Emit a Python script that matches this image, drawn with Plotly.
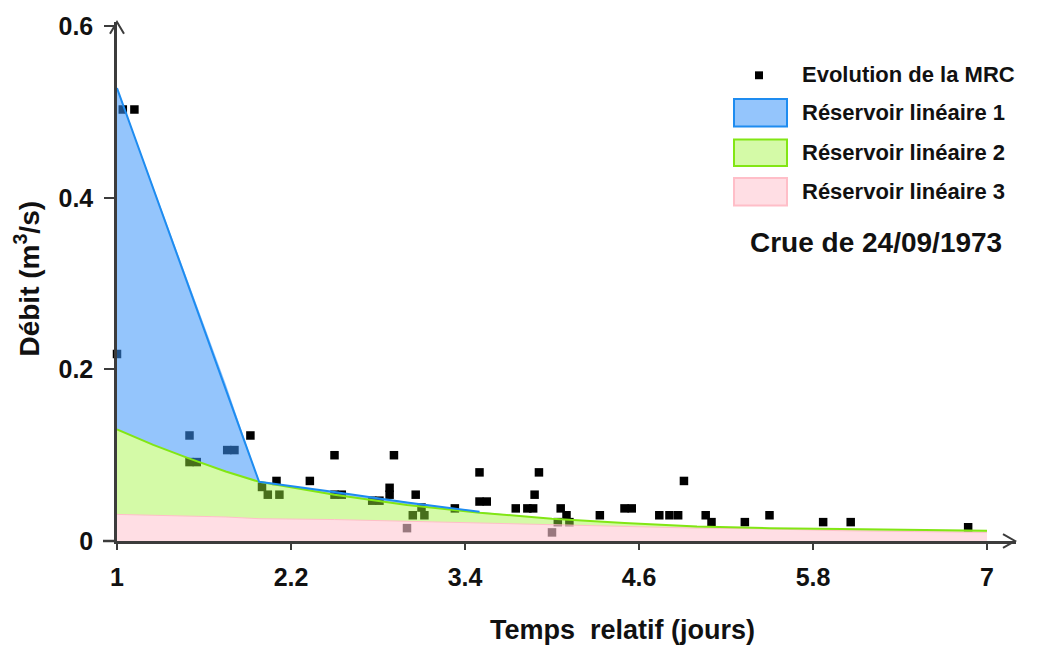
import plotly.graph_objects as go

# ---- data ----
mrc_x = [1.0, 1.04, 1.12, 1.50, 1.50, 1.55, 1.76, 1.81, 1.92, 2.00, 2.10, 2.04, 2.12, 2.33, 2.50, 2.50, 2.55,
         2.76, 2.81, 2.88, 2.88, 2.91, 3.06, 3.10, 3.04, 3.12, 3.00, 3.33, 3.50, 3.50, 3.55, 3.75, 3.83, 3.87,
         3.88, 3.91, 4.00, 4.06, 4.10, 4.04, 4.12, 4.33, 4.50, 4.55, 4.74, 4.81, 4.87, 4.91, 5.06, 5.10, 5.33,
         5.50, 5.87, 6.06, 6.87]
mrc_y = [0.218, 0.503, 0.503, 0.123, 0.092, 0.092, 0.106, 0.106, 0.123, 0.063, 0.070, 0.054, 0.054, 0.070,
         0.100, 0.054, 0.054, 0.047, 0.047, 0.062, 0.054, 0.100, 0.054, 0.039, 0.030, 0.030, 0.015, 0.038,
         0.080, 0.046, 0.046, 0.038, 0.038, 0.038, 0.054, 0.080, 0.010, 0.038, 0.030, 0.022, 0.022, 0.030,
         0.038, 0.038, 0.030, 0.030, 0.030, 0.070, 0.030, 0.022, 0.022, 0.030, 0.022, 0.022, 0.016]

res_x = [1.0, 1.25, 1.5, 1.75, 1.98, 2.5, 3.0, 3.5, 4.0, 4.5, 5.0, 5.5, 6.0, 6.5, 7.0]
res3_top = [0.031, 0.030, 0.029, 0.028, 0.026, 0.025, 0.023, 0.021, 0.019, 0.017, 0.015, 0.014, 0.012, 0.011, 0.010]
res2_top = [0.130, 0.112, 0.096, 0.081, 0.069, 0.054, 0.042, 0.033, 0.026, 0.021, 0.017, 0.015, 0.014, 0.013, 0.012]
res1_top = [0.528, 0.413, 0.298, 0.183, 0.069, 0.057, 0.045, 0.034, 0.026, 0.021, 0.017, 0.015, 0.014, 0.013, 0.012]
res1_edge_x = [1.0, 1.98, 2.5, 3.0, 3.5]
res1_edge_y = [0.528, 0.069, 0.057, 0.045, 0.034]

x_ticks = [1, 2.2, 3.4, 4.6, 5.8, 7]
y_ticks = [0, 0.2, 0.4, 0.6]
y_ticktext = ["0", "0.2", "0.4", "0.6"]

legend_labels = ["Evolution de la MRC", "Réservoir linéaire 1", "Réservoir linéaire 2", "Réservoir linéaire 3"]
note_text = "Crue de 24/09/1973"
x_title = "Temps  relatif (jours)"
y_title = "Débit (m<sup>3</sup>/s)"

# ---- styles ----
BLUE_FILL = "rgba(60,150,250,0.55)"
GREEN_FILL = "rgba(160,245,60,0.45)"
PINK_FILL = "rgba(255,200,210,0.6)"
BLUE_LINE = "rgb(30,140,240)"
GREEN_LINE = "rgb(130,230,20)"
PINK_LINE = "rgb(255,190,200)"
AXIS = "#3c3c3c"
TXT = "#111111"
FONT = "Liberation Sans"

W, H = 1043, 648
L, R, T, B = 117, 27, 15, 107
PW, PH = W - L - R, H - T - B
X0, X1 = 1.0, 7.2
Y0, Y1 = 0.0, 0.605


def px(xp):
    return (xp - L) / PW


def py(yp):
    return (H - B - yp) / PH


fig = go.Figure()

# markers first, fills overlay them (semi-transparent)
fig.add_trace(go.Scatter(x=mrc_x, y=mrc_y, mode="markers",
                         marker=dict(symbol="square", size=8.5, color="black"),
                         cliponaxis=False, showlegend=False))
fig.add_trace(go.Scatter(x=res_x, y=[0] * len(res_x), mode="lines",
                         line=dict(width=0), showlegend=False))
fig.add_trace(go.Scatter(x=res_x, y=res3_top, mode="lines", fill="tonexty",
                         fillcolor=PINK_FILL, line=dict(color=PINK_LINE, width=1), showlegend=False))
fig.add_trace(go.Scatter(x=res_x, y=res2_top, mode="lines", fill="tonexty",
                         fillcolor=GREEN_FILL, line=dict(color=GREEN_LINE, width=2), showlegend=False))
fig.add_trace(go.Scatter(x=res_x, y=res1_top, mode="lines", fill="tonexty",
                         fillcolor=BLUE_FILL, line=dict(width=0), showlegend=False))
fig.add_trace(go.Scatter(x=res1_edge_x, y=res1_edge_y, mode="lines",
                         line=dict(color=BLUE_LINE, width=2), showlegend=False))

shapes = []
# axis arrows (open chevrons)
shapes.append(dict(type="path", xref="paper", yref="paper",
                   path=f"M {px(1003)} {py(534)} L {px(1015)} {py(541)} L {px(1003)} {py(548)}",
                   line=dict(color=AXIS, width=2)))
shapes.append(dict(type="path", xref="paper", yref="paper",
                   path=f"M {px(110)} {py(27)} L {px(117)} {py(15)} L {px(124)} {py(27)}",
                   line=dict(color=AXIS, width=2)))
# x axis small overhang to the left
shapes.append(dict(type="line", xref="paper", yref="paper", x0=px(103), x1=px(117), y0=py(541), y1=py(541),
                   line=dict(color=AXIS, width=2.5)))

# custom legend
shapes.append(dict(type="rect", xref="paper", yref="paper", x0=px(755), x1=px(763), y0=py(65), y1=py(73),
                   fillcolor="black", line=dict(width=0)))
sw = [(BLUE_FILL, BLUE_LINE, 93, 121), (GREEN_FILL, GREEN_LINE, 134, 161), (PINK_FILL, PINK_LINE, 173, 201)]
for fc, lc, ya, yb in sw:
    shapes.append(dict(type="rect", xref="paper", yref="paper", x0=px(734), x1=px(787), y0=py(yb), y1=py(ya),
                       fillcolor=fc, line=dict(color=lc, width=2)))

annotations = []
for lab, yc in zip(legend_labels, [68, 107, 147, 187]):
    annotations.append(dict(text=lab, xref="paper", yref="paper", x=px(800), y=py(yc), xanchor="left",
                            yanchor="middle", showarrow=False,
                            font=dict(family=FONT, size=22, color=TXT, weight="bold")))
annotations.append(dict(text=note_text, xref="paper", yref="paper", x=px(748), y=py(238), xanchor="left",
                        yanchor="middle", showarrow=False,
                        font=dict(family=FONT, size=28, color=TXT, weight="bold")))
annotations.append(dict(text=x_title, xref="paper", yref="paper", x=px(622), y=py(631),
                        xanchor="center", yanchor="middle", showarrow=False,
                        font=dict(family=FONT, size=27, color=TXT, weight="bold")))
annotations.append(dict(text=y_title, xref="paper", yref="paper", x=px(27), y=py(275),
                        xanchor="center", yanchor="middle", showarrow=False, textangle=-90,
                        font=dict(family=FONT, size=28, color=TXT, weight="bold")))

fig.update_layout(
    width=W, height=H,
    margin=dict(l=L, r=R, t=T, b=B),
    plot_bgcolor="white", paper_bgcolor="white",
    showlegend=False,
    shapes=shapes, annotations=annotations,
    xaxis=dict(range=[X0, X1], tickvals=x_ticks, ticktext=[str(v) for v in x_ticks],
               showgrid=False, zeroline=False, showline=True, linecolor=AXIS, linewidth=2.5,
               ticks="outside", ticklen=6, tickcolor=AXIS, tickwidth=1.5,
               ticklabelstandoff=6,
               tickfont=dict(family=FONT, size=25, color=TXT, weight="bold")),
    yaxis=dict(range=[Y0, Y1], tickvals=y_ticks, ticktext=y_ticktext,
               showgrid=False, zeroline=False, showline=True, linecolor=AXIS, linewidth=2.5,
               ticks="outside", ticklen=10, tickcolor=AXIS, tickwidth=1.5,
               ticklabelstandoff=6,
               tickfont=dict(family=FONT, size=25, color=TXT, weight="bold")),
)

fig.write_html("out.html")
